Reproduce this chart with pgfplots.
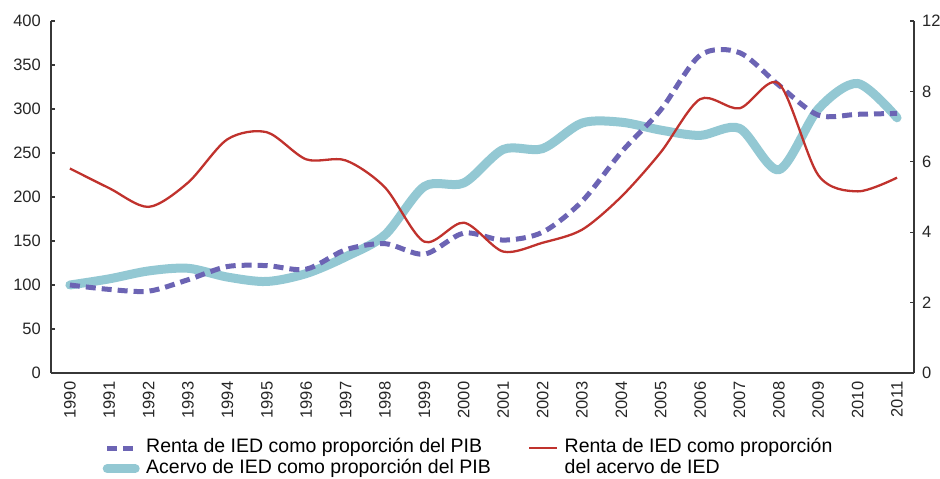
\documentclass[border=0pt]{standalone}
\usepackage{fontspec}
\setmainfont{Liberation Sans}
\usepackage{pgfplots}
\pgfplotsset{compat=1.18}
\definecolor{cpurple}{RGB}{108,100,180}
\definecolor{cblue}{RGB}{147,200,211}
\definecolor{cred}{RGB}{192,50,45}
\definecolor{caxis}{RGB}{55,55,55}

\begin{document}
\begin{tikzpicture}
\pgfplotsset{
  base/.style={
    width=863pt, height=352pt, scale only axis,
    xmin=1989.52, xmax=2011.43,
    tick align=inside, major tick length=4pt,
    axis line style={caxis, line width=1.5pt},
    tick style={caxis, line width=1.2pt},
    /pgf/number format/assume math mode=true,
    /pgf/number format/set thousands separator={},
    ticklabel style={font=\fontsize{16.5}{18}\selectfont, text=black!85},
  }
}
\begin{axis}[base,
  axis x line*=bottom, axis y line*=left,
  ymin=0, ymax=400, ytick={0,50,...,400},
  xtick={1990,1991,...,2011},
  xtick style={draw=none},
  x tick label style={rotate=90, anchor=east, inner xsep=8.5pt},
  y tick label style={inner xsep=10pt},
  legend columns=2,
  legend cell align=left,
  legend image code/.code={\draw[#1] (0pt,0pt) -- (28pt,0pt);},
  legend style={
    at={(0.0597,-0.1838)}, anchor=north west,
    draw=none, fill=none, inner xsep=0pt, inner ysep=0pt,
    font=\fontsize{19.5}{20.5}\selectfont,
    nodes={inner sep=1pt, text height=14pt, text depth=4.5pt},
    row sep=0pt,
    /tikz/every odd column/.style={column sep=5.5pt},
    /tikz/every even column/.style={column sep=36pt},
  },
]
\addlegendimage{cpurple, line width=5pt, dash pattern=on 10pt off 6pt}
\addlegendentry{Renta de IED como proporción del PIB}
\addlegendimage{cred, line width=2.3pt}
\addlegendentry{\smash{\vtop{\hbox{Renta de IED como proporción}\hbox{del acervo de IED}}}}
\addlegendimage{cblue, line width=9pt, line cap=round}
\addlegendentry{Acervo de IED como proporción del PIB}

% Acervo de IED como proporción del PIB
\addplot[cblue, line width=9pt, line cap=round, line join=round, smooth, forget plot] coordinates {
(1990,100) (1991,107) (1992,116) (1993,119) (1994,109) (1995,104) (1996,113)
(1997,132) (1998,157) (1999,212) (2000,216) (2001,254) (2002,255) (2003,284)
(2004,285) (2005,276) (2006,270) (2007,278) (2008,231) (2009,300) (2010,329) (2011,290)
};
% Renta de IED como proporción del PIB
\addplot[cpurple, line width=5pt, dash pattern=on 10pt off 6pt, smooth, forget plot] coordinates {
(1990,100) (1991,95) (1992,93) (1993,106) (1994,121) (1995,122) (1996,118)
(1997,140) (1998,147) (1999,135) (2000,159) (2001,151) (2002,160) (2003,195)
(2004,251) (2005,299) (2006,361) (2007,364) (2008,327) (2009,293) (2010,294) (2011,295)
};
\end{axis}

\begin{axis}[base,
  axis y line*=right, axis x line=none,
  ymin=0, ymax=10, ytick={0,2,...,10},
  yticklabels={0,2,4,6,8,12},
  y tick label style={inner xsep=8pt},
]
% Renta de IED como proporción del acervo de IED
\addplot[cred, line width=2.3pt, smooth] coordinates {
(1990,5.81) (1991,5.25) (1992,4.72) (1993,5.41) (1994,6.64) (1995,6.84) (1996,6.07)
(1997,6.04) (1998,5.27) (1999,3.73) (2000,4.27) (2001,3.45) (2002,3.70) (2003,4.07)
(2004,5.01) (2005,6.27) (2006,7.78) (2007,7.52) (2008,8.22) (2009,5.62) (2010,5.16) (2011,5.55)
};
\end{axis}
\pgfresetboundingbox
\path[use as bounding box] ([xshift=-51pt,yshift=-106pt]current axis.south west) rectangle ([xshift=26pt,yshift=21pt]current axis.north east);
\end{tikzpicture}
\end{document}
